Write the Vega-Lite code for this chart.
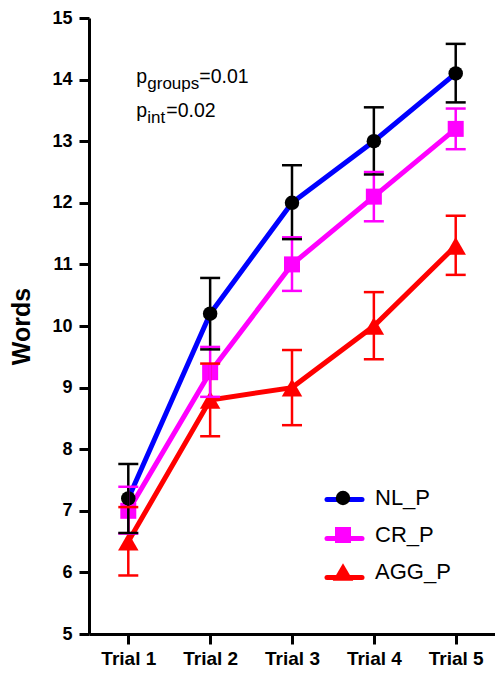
{
  "$schema": "https://vega.github.io/schema/vega-lite/v6.json",
  "width": 406,
  "height": 616,
  "autosize": {"type": "none"},
  "padding": {"left": 89, "top": 18, "right": 0, "bottom": 40},
  "background": "white",
  "config": {
    "view": {"stroke": null},
    "font": "Liberation Sans",
    "axis": {"domainColor": "black", "domainWidth": 3, "tickColor": "black", "tickWidth": 3, "labelColor": "black", "labelFont": "Liberation Sans", "labelFontWeight": "bold", "grid": false, "titleColor": "black", "titleFont": "Liberation Sans", "titleFontWeight": "bold"},
    "axisX": {"tickSize": 10, "labelFontSize": 19, "labelPadding": 5, "labelAngle": 0},
    "axisY": {"tickSize": 10, "labelFontSize": 18, "labelPadding": 7, "titleFontSize": 25, "titlePadding": 17}
  },
  "datasets": {
    "scores": [
      {"group": "AGG_P", "trial": "Trial 1", "mean": 6.5, "lo": 5.95, "hi": 7.06},
      {"group": "AGG_P", "trial": "Trial 2", "mean": 8.8, "lo": 8.21, "hi": 9.39},
      {"group": "AGG_P", "trial": "Trial 3", "mean": 9.0, "lo": 8.39, "hi": 9.61},
      {"group": "AGG_P", "trial": "Trial 4", "mean": 10.0, "lo": 9.46, "hi": 10.55},
      {"group": "AGG_P", "trial": "Trial 5", "mean": 11.3, "lo": 10.83, "hi": 11.79},
      {"group": "CR_P", "trial": "Trial 1", "mean": 7.0, "lo": 6.63, "hi": 7.39},
      {"group": "CR_P", "trial": "Trial 2", "mean": 9.25, "lo": 8.85, "hi": 9.66},
      {"group": "CR_P", "trial": "Trial 3", "mean": 11.0, "lo": 10.57, "hi": 11.44},
      {"group": "CR_P", "trial": "Trial 4", "mean": 12.1, "lo": 11.7, "hi": 12.5},
      {"group": "CR_P", "trial": "Trial 5", "mean": 13.2, "lo": 12.87, "hi": 13.53},
      {"group": "NL_P", "trial": "Trial 1", "mean": 7.2, "lo": 6.64, "hi": 7.76},
      {"group": "NL_P", "trial": "Trial 2", "mean": 10.2, "lo": 9.62, "hi": 10.78},
      {"group": "NL_P", "trial": "Trial 3", "mean": 12.0, "lo": 11.41, "hi": 12.61},
      {"group": "NL_P", "trial": "Trial 4", "mean": 13.0, "lo": 12.46, "hi": 13.55},
      {"group": "NL_P", "trial": "Trial 5", "mean": 14.1, "lo": 13.63, "hi": 14.58}
    ]
  },
  "layer": [
    {
      "data": {"name": "scores"},
      "mark": {"type": "line", "strokeWidth": 5},
      "encoding": {
        "x": {"field": "trial", "type": "nominal", "title": null, "scale": {"type": "point", "padding": 0.48}},
        "y": {"field": "mean", "type": "quantitative", "title": "Words", "scale": {"domain": [5, 15], "nice": false, "zero": false}, "axis": {"values": [5, 6, 7, 8, 9, 10, 11, 12, 13, 14, 15], "format": "d"}},
        "color": {"field": "group", "type": "nominal",
          "scale": {"domain": ["NL_P", "CR_P", "AGG_P"], "range": ["#0000ff", "#ff00ff", "#ff0000"]},
          "legend": {"orient": "none", "legendX": 243, "legendY": 469, "title": null, "symbolType": "M-1.75,0L1.75,0", "symbolSize": 400, "symbolStrokeWidth": 5, "labelFontSize": 22, "labelExpr": "''", "labelOffset": 0, "rowPadding": 15,
            "encode": {"symbols": {"update": {"strokeCap": {"value": "round"}}}}}}
      }
    },
    {
      "data": {"name": "scores"},
      "mark": {"type": "point", "filled": true, "opacity": 1, "strokeWidth": 0},
      "encoding": {
        "x": {"field": "trial", "type": "nominal", "title": null},
        "y": {"field": "mean", "type": "quantitative", "title": "Words"},
        "color": {"field": "group", "type": "nominal",
          "scale": {"domain": ["NL_P", "CR_P", "AGG_P"], "range": ["#000000", "#ff00ff", "#ff0000"]},
          "legend": {"orient": "none", "legendX": 243, "legendY": 469, "title": null, "labelFontSize": 22, "labelFont": "Liberation Sans", "labelColor": "black", "labelOffset": 21, "rowPadding": 15, "symbolStrokeWidth": 0}},
        "shape": {"field": "group", "type": "nominal",
          "scale": {"domain": ["NL_P", "CR_P", "AGG_P"], "range": ["circle", "square", "triangle-up"]},
          "legend": {"orient": "none", "legendX": 243, "legendY": 469, "title": null, "labelFontSize": 22, "labelFont": "Liberation Sans", "labelColor": "black", "labelOffset": 21, "rowPadding": 15, "symbolStrokeWidth": 0}},
        "size": {"field": "group", "type": "nominal",
          "scale": {"type": "ordinal", "domain": ["NL_P", "CR_P", "AGG_P"], "range": [210, 256, 420]},
          "legend": {"orient": "none", "legendX": 243, "legendY": 469, "title": null, "labelFontSize": 22, "labelFont": "Liberation Sans", "labelColor": "black", "labelOffset": 21, "rowPadding": 15, "symbolStrokeWidth": 0}}
      }
    },
    {
      "data": {"name": "scores"},
      "mark": {"type": "rule", "strokeWidth": 2.5},
      "encoding": {
        "x": {"field": "trial", "type": "nominal", "title": null},
        "y": {"field": "lo", "type": "quantitative", "title": "Words"},
        "y2": {"field": "hi"},
        "color": {"field": "group", "type": "nominal", "scale": {"domain": ["NL_P", "CR_P", "AGG_P"], "range": ["#000000", "#ff00ff", "#ff0000"]}, "legend": null}
      }
    },
    {
      "data": {"name": "scores"},
      "mark": {"type": "tick", "size": 20, "thickness": 2.5, "opacity": 1},
      "encoding": {
        "x": {"field": "trial", "type": "nominal", "title": null},
        "y": {"field": "hi", "type": "quantitative", "title": "Words"},
        "color": {"field": "group", "type": "nominal", "scale": {"domain": ["NL_P", "CR_P", "AGG_P"], "range": ["#000000", "#ff00ff", "#ff0000"]}, "legend": null}
      }
    },
    {
      "data": {"name": "scores"},
      "mark": {"type": "tick", "size": 20, "thickness": 2.5, "opacity": 1},
      "encoding": {
        "x": {"field": "trial", "type": "nominal", "title": null},
        "y": {"field": "lo", "type": "quantitative", "title": "Words"},
        "color": {"field": "group", "type": "nominal", "scale": {"domain": ["NL_P", "CR_P", "AGG_P"], "range": ["#000000", "#ff00ff", "#ff0000"]}, "legend": null}
      }
    },
    {
      "data": {"values": [{"trial": "Trial 1", "words": 13.94, "label": "p"}, {"trial": "Trial 1", "words": 13.39, "label": "p"}]},
      "mark": {"type": "text", "align": "left", "baseline": "alphabetic", "dx": 8, "fontSize": 19.5, "font": "Liberation Sans", "color": "black"},
      "encoding": {"x": {"field": "trial", "type": "nominal", "title": null}, "y": {"field": "words", "type": "quantitative", "title": "Words"}, "text": {"field": "label"}}
    },
    {
      "data": {"values": [{"trial": "Trial 1", "words": 13.94, "label": "groups"}, {"trial": "Trial 1", "words": 13.39, "label": "int"}]},
      "mark": {"type": "text", "align": "left", "baseline": "alphabetic", "dx": 19, "dy": 6, "fontSize": 17, "font": "Liberation Sans", "color": "black"},
      "encoding": {"x": {"field": "trial", "type": "nominal", "title": null}, "y": {"field": "words", "type": "quantitative", "title": "Words"}, "text": {"field": "label"}}
    },
    {
      "data": {"values": [{"trial": "Trial 1", "words": 13.94, "label": "=0.01"}]},
      "mark": {"type": "text", "align": "left", "baseline": "alphabetic", "dx": 71, "fontSize": 19.5, "font": "Liberation Sans", "color": "black"},
      "encoding": {"x": {"field": "trial", "type": "nominal", "title": null}, "y": {"field": "words", "type": "quantitative", "title": "Words"}, "text": {"field": "label"}}
    },
    {
      "data": {"values": [{"trial": "Trial 1", "words": 13.39, "label": "=0.02"}]},
      "mark": {"type": "text", "align": "left", "baseline": "alphabetic", "dx": 38, "fontSize": 19.5, "font": "Liberation Sans", "color": "black"},
      "encoding": {"x": {"field": "trial", "type": "nominal", "title": null}, "y": {"field": "words", "type": "quantitative", "title": "Words"}, "text": {"field": "label"}}
    }
  ],
  "resolve": {"scale": {"color": "independent", "shape": "independent", "size": "independent"}}
}
